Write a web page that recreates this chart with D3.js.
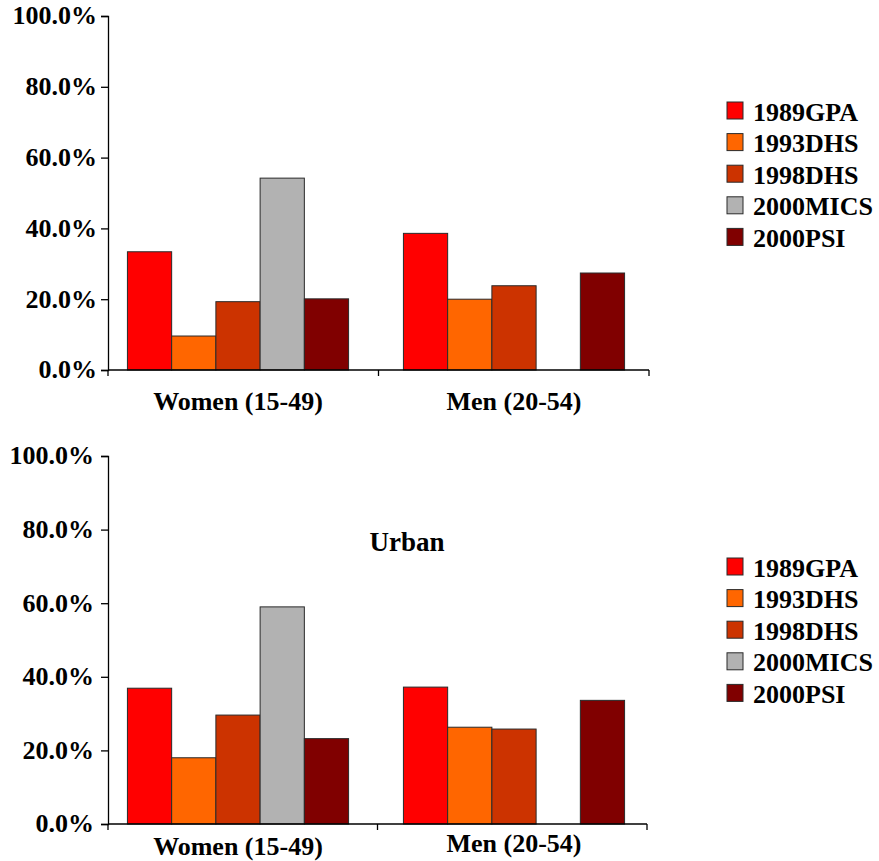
<!DOCTYPE html>
<html>
<head>
<meta charset="utf-8">
<script src="https://cdn.jsdelivr.net/npm/d3@7"></script>
<style>
  html, body { margin: 0; padding: 0; background: #fff; }
  svg { display: block; }
  text { font-family: "Times New Roman", "Liberation Serif", Tinos, "DejaVu Serif", serif; font-weight: bold; fill: #000; }
</style>
</head>
<body>
<svg id="chart" width="879" height="861"></svg>
<script>
// Survey groups along the x axis
const groups = ["Women (15-49)", "Men (20-54)"];
// Survey series
const surveys = ["1989GPA", "1993DHS", "1998DHS", "2000MICS", "2000PSI"];
const surveyColors = ["#FF0000", "#FF6600", "#CC3300", "#B2B2B2", "#800000"];
// Percentages, one row per group, one entry per survey (null = not surveyed)
const allValues = [
  [33.4, 9.6, 19.3, 54.2, 20.1],
  [38.6, 20.0, 23.8, null, 27.4]
];
const urbanValues = [
  [36.9, 18.0, 29.6, 59.0, 23.2],
  [37.2, 26.3, 25.8, null, 33.6]
];
// Y axis ticks (percent)
const yTicks = [0, 20, 40, 60, 80, 100];

const svg = d3.select("#chart");

function drawPanel(opts, values, title) {
  const g = svg.append("g");

  const y = d3.scaleLinear().domain([0, 100]).range([opts.y0, opts.y100]);

  // Bar placement: groups across the plot, surveys within each group
  const x0 = d3.scaleBand().domain(groups).range([opts.barLeft, opts.barRight])
    .paddingInner(0).paddingOuter(0);
  const x1 = d3.scaleBand().domain(surveys).range([0, x0.bandwidth()])
    .paddingInner(0).paddingOuter(0.62);

  // Axis frame: band edges on the visible x axis
  const xa = d3.scaleBand().domain(groups).range([opts.axisX, opts.axisEnd]);

  // Bars
  groups.forEach((grp, gi) => {
    const rows = surveys.map((s, si) => ({ s, si, v: values[gi][si] }))
      .filter(d => d.v !== null);
    g.append("g").selectAll("rect").data(rows).join("rect")
      .attr("x", d => x0(grp) + x1(d.s))
      .attr("y", d => y(d.v))
      .attr("width", x1.bandwidth())
      .attr("height", d => y(0) - y(d.v))
      .attr("fill", d => surveyColors[d.si])
      .attr("stroke", "#2a2a2a")
      .attr("stroke-width", 1);
  });

  // Y axis
  const yAxis = d3.axisLeft(y).tickValues(yTicks).tickSize(7).tickPadding(5)
    .tickFormat(d => d3.format(".1f")(d) + "%");
  const ya = g.append("g").attr("transform", `translate(${opts.axisX},0)`).call(yAxis);
  ya.attr("font-family", null).attr("font-size", null);
  ya.select(".domain").attr("stroke", "#000").attr("stroke-width", 1.3);
  ya.selectAll(".tick line").attr("stroke", "#000").attr("stroke-width", 1.3);
  ya.selectAll(".tick text")
    .style("font-size", "26px")
    .attr("dy", "0.3em").attr("x", -opts.labelGap);

  // X axis line with ticks at group boundaries
  const xg = g.append("g");
  xg.append("line")
    .attr("x1", opts.axisX).attr("x2", opts.axisEnd)
    .attr("y1", y(0)).attr("y2", y(0))
    .attr("stroke", "#000").attr("stroke-width", 1.5);
  const edges = groups.map(d => xa(d)).concat([opts.axisEnd]);
  xg.selectAll("line.tick").data(edges).join("line").attr("class", "tick")
    .attr("x1", d => d).attr("x2", d => d)
    .attr("y1", y(0)).attr("y2", y(0) + 6)
    .attr("stroke", "#000").attr("stroke-width", 1.3);

  // Group labels
  xg.selectAll("text").data(groups).join("text")
    .attr("x", d => x0(d) + x0.bandwidth() / 2)
    .attr("y", (d, i) => opts.labelY[i])
    .attr("text-anchor", "middle")
    .style("font-size", "26px")
    .text(d => d);

  // Panel title
  if (title) {
    g.append("text").attr("x", opts.titleX).attr("y", opts.titleY)
      .attr("text-anchor", "middle").style("font-size", "27px").text(title);
  }

  // Legend
  const lg = g.append("g").attr("transform", `translate(727,${opts.legendTop})`);
  const items = lg.selectAll("g").data(surveys).join("g")
    .attr("transform", (d, i) => `translate(0,${i * 31.6})`);
  items.append("rect").attr("width", 16).attr("height", 17)
    .attr("fill", (d, i) => surveyColors[i])
    .attr("stroke", "#2a2a2a").attr("stroke-width", 1);
  items.append("text").attr("x", 26).attr("y", 18.5)
    .style("font-size", "26px").text(d => d);
}

// Upper panel: all respondents
drawPanel({
  axisX: 108, axisEnd: 649, y0: 370, y100: 16,
  barLeft: 100, barRight: 652, labelGap: 11,
  labelY: [410, 410], legendTop: 102
}, allValues, null);

// Lower panel: urban respondents
drawPanel({
  axisX: 108, axisEnd: 647, y0: 824, y100: 456,
  barLeft: 100, barRight: 652, labelGap: 14,
  labelY: [855, 852], legendTop: 558,
  titleX: 407, titleY: 551
}, urbanValues, "Urban");
</script>
</body>
</html>
